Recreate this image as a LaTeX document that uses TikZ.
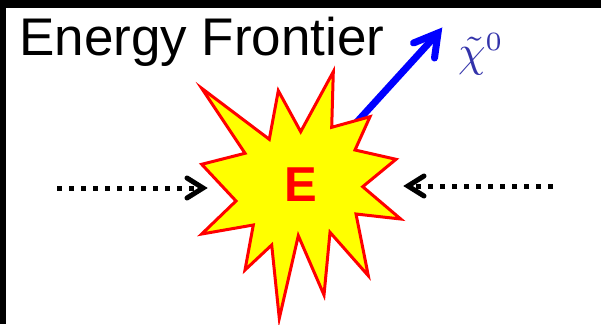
\documentclass[tikz,border=0pt]{standalone}
\usepackage{graphicx}
\usepackage{fontspec}
\newfontfamily\arialfont{Liberation Sans}
\usetikzlibrary{calc}
\definecolor{chiblue}{RGB}{51,51,170}
\definecolor{starred}{RGB}{255,0,0}
\definecolor{staryellow}{RGB}{255,255,0}
\tikzset{
  dotline/.style={line width=5pt, dash pattern=on 5pt off 7pt, line cap=butt},
  chevron/.style={line width=5pt, line cap=round, line join=miter},
  blueline/.style={draw=blue, line width=7pt, line cap=butt},
  bluehead/.style={draw=blue, line width=7pt, line cap=round, line join=miter},
  starshape/.style={fill=staryellow, draw=starred, line width=3pt, line join=miter},
  titletext/.style={inner sep=0pt, anchor=base west, font=\arialfont\fontsize{53}{53}\selectfont},
  etext/.style={inner sep=0pt, anchor=base, text=starred, font=\arialfont\bfseries\fontsize{49}{49}\selectfont},
  chitext/.style={inner sep=0pt, anchor=base west, text=chiblue},
}
\begin{document}
\begin{tikzpicture}[x=1pt,y=-1pt]
\useasboundingbox (0,0) rectangle (601,324);
\fill[white] (0,0) rectangle (601,324);
\fill[black] (0,0) rectangle (601,8);
\fill[black] (0,0) rectangle (6,324);

% title
\node[titletext] (title) at (19,55) {Energy Frontier};

% blue arrow (drawn first so star covers its start)
\coordinate (S) at (356,123);
\coordinate (V) at (438,33);
\draw[blueline] (S) -- (V);
\draw[bluehead] ($(V)+(-24.5,10)$) -- (V) -- ($(V)+(-3.5,25)$);

% star
\path[starshape] (201.7,88.3) -- (269.3,139.3) -- (278.3,90.7) -- (300.7,131.7)
  -- (333.3,71.7) -- (331.7,127.3) -- (370,116.7) -- (355,150)
  -- (396,159.3) -- (362.7,186.7) -- (400.7,219) -- (356,214)
  -- (368.3,275.7) -- (330,232.3) -- (324,295) -- (298.3,235.7)
  -- (279.3,318.3) -- (271.7,245) -- (245,270) -- (253.3,225)
  -- (201.7,234) -- (236,201) -- (201.7,164.3) -- (245,153.3) -- cycle;
\node[etext] (E) at (300.5,201.7) {E};

% chi label
\node[chitext] (chi) at (458,66.5) {\scalebox{4.4}{$\tilde{\chi}^{\mbox{\fontsize{6}{6}\selectfont 0}}$}};

% left incoming dotted arrow
\coordinate (L0) at (57,188);
\coordinate (L1) at (203,188);
\draw[dotline] (L0) -- (L1);
\draw[chevron] ($(L1)+(-16,-10)$) -- (L1) -- ($(L1)+(-16,10)$);

% right incoming dotted arrow
\coordinate (R0) at (553,186);
\coordinate (R1) at (408,186);
\draw[dotline] (R0) -- (R1);
\draw[chevron] ($(R1)+(16,-10)$) -- (R1) -- ($(R1)+(16,10)$);
\end{tikzpicture}
\end{document}
